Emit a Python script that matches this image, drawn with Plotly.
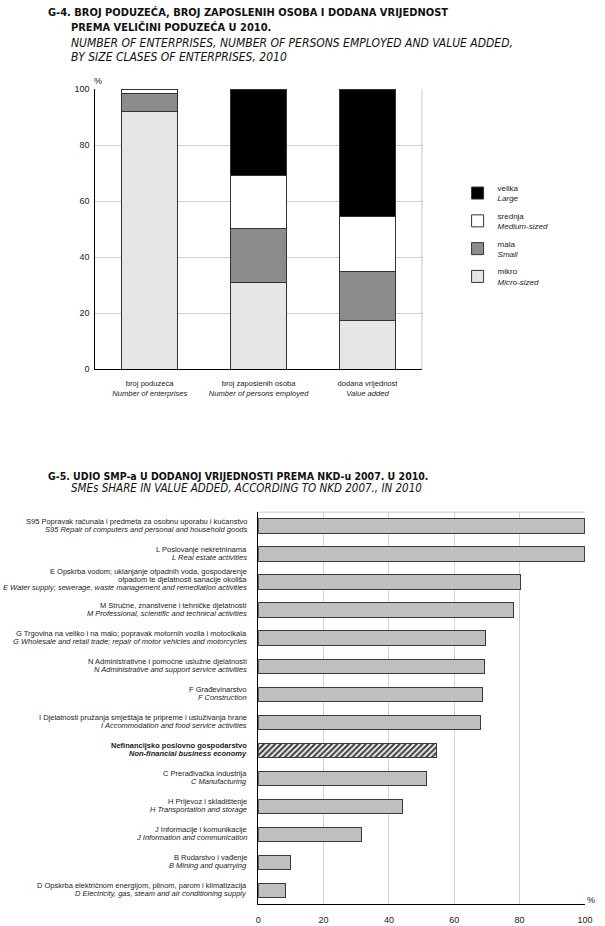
import plotly.graph_objects as go

# ---------------- DATA ----------------
# G-4 stacked bars
g4_cat_hr = ["broj poduzeća", "broj zaposlenih osoba", "dodana vrijednost"]
g4_cat_en = ["Number of enterprises", "Number of persons employed", "Value added"]
size_hr = ["mikro", "mala", "srednja", "velika"]
size_en = ["Micro-sized", "Small", "Medium-sized", "Large"]
micro = [92.0, 31.1, 17.3]
small = [6.6, 19.3, 17.6]
medium = [1.2, 18.7, 19.7]
large = [0.2, 30.9, 45.4]
size_colors = ["#e6e6e6", "#8c8c8c", "#ffffff", "#000000"]
legend_rank = [4, 3, 2, 1]

# G-5 horizontal bars (top to bottom)
g5_hr = [
    "S95 Popravak računala i predmeta za osobnu uporabu i kućanstvo",
    "L Poslovanje nekretninama",
    "E Opskrba vodom; uklanjanje otpadnih voda, gospodarenje<br>otpadom te djelatnosti sanacije okoliša",
    "M Stručne, znanstvene i tehničke djelatnosti",
    "G Trgovina na veliko i na malo; popravak motornih vozila i motocikala",
    "N Administrativne i pomoćne uslužne djelatnosti",
    "F Građevinarstvo",
    "I Djelatnosti pružanja smještaja te pripreme i usluživanja hrane",
    "Nefinancijsko poslovno gospodarstvo",
    "C Prerađivačka industrija",
    "H Prijevoz i skladištenje",
    "J Informacije i komunikacije",
    "B Rudarstvo i vađenje",
    "D Opskrba električnom energijom, plinom, parom i klimatizacija",
]
g5_en = [
    "S95 Repair of computers and personal and household goods",
    "L Real estate activities",
    "E Water supply; sewerage, waste management and remediation activities",
    "M Professional, scientific and technical activities",
    "G Wholesale and retail trade; repair of motor vehicles and motorcycles",
    "N Administrative and support service activities",
    "F Construction",
    "I Accommodation and food service activities",
    "Non-financial business economy",
    "C Manufacturing",
    "H Transportation and storage",
    "J Information and communication",
    "B Mining and quarrying",
    "D Electricity, gas, steam and air conditioning supply",
]
g5_values = [100.0, 100.0, 80.3, 78.1, 69.6, 69.3, 68.5, 68.1, 54.7, 51.4, 44.1, 31.7, 10.0, 8.2]
g5_total_label = "Nefinancijsko poslovno gospodarstvo"

# ---------------- LAYOUT HELPERS ----------------
W, H = 605, 926
def px(x):
    return x / W
def py(y):
    return 1 - y / H

BODY = "Liberation Sans, Arial, sans-serif"
TITLE = "Liberation Sans Narrow, Arial Narrow, DejaVu Sans Condensed, Liberation Sans, Arial, sans-serif"
TXT = "#222222"

fig = go.Figure()

# ---------------- G-4 ----------------
g4_x = g4_cat_hr
g4_tick = [f"{h}<br><i>{e}</i>" for h, e in zip(g4_cat_hr, g4_cat_en)]
for vals, hr, en, col, rk in zip([micro, small, medium, large], size_hr, size_en, size_colors, legend_rank):
    fig.add_trace(go.Bar(
        x=g4_x, y=vals, name=f"{hr}<br><i>{en}</i>",
        marker=dict(color=col, line=dict(color="#333333", width=1)),
        width=0.51, xaxis="x", yaxis="y", legendgroup=hr, legendrank=rk,
        hoverinfo="x+y",
    ))

# ---------------- G-5 ----------------
bar_cols = ["#ffffff" if c == g5_total_label else "#bfbfbf" for c in g5_hr]
pat = ["/" if c == g5_total_label else "" for c in g5_hr]
fig.add_trace(go.Bar(
    x=g5_values, y=g5_hr, orientation="h", width=0.52,
    marker=dict(color=bar_cols, line=dict(color="#3a3a3a", width=1),
                pattern=dict(shape=pat, fgcolor="#000000", bgcolor="#ffffff", fgopacity=1,
                             size=4, solidity=0.55)),
    xaxis="x2", yaxis="y2", showlegend=False,
))

annotations = []
# titles
def title_line(text, x, y, size, bold=False, italic=False):
    t = text
    if bold:
        t = f"<b>{t}</b>"
    if italic:
        t = f"<i>{t}</i>"
    annotations.append(dict(text=t, x=px(x), y=py(y), xref="paper", yref="paper",
                            xanchor="left", yanchor="middle", showarrow=False,
                            font=dict(family=TITLE, size=size, color="#111111")))

title_line("G-4. BROJ PODUZEĆA, BROJ ZAPOSLENIH OSOBA I DODANA VRIJEDNOST", 44, 8, 11, bold=True)
title_line("PREMA VELIČINI PODUZEĆA U 2010.", 67, 23, 11, bold=True)
title_line("NUMBER OF ENTERPRISES, NUMBER OF PERSONS EMPLOYED AND VALUE ADDED,", 67, 38, 12, italic=True)
title_line("BY SIZE CLASES OF ENTERPRISES, 2010", 67, 53, 12, italic=True)
title_line("G-5. UDIO SMP-a U DODANOJ VRIJEDNOSTI PREMA NKD-u 2007. U 2010.", 44, 476, 10.5, bold=True)
title_line("SMEs SHARE IN VALUE ADDED, ACCORDING TO NKD 2007., IN 2010", 67, 488, 11.5, italic=True)

# percent signs
annotations.append(dict(text="%", x=px(97), y=py(77), xref="paper", yref="paper", showarrow=False,
                        xanchor="center", yanchor="middle", font=dict(family=BODY, size=9, color=TXT)))
annotations.append(dict(text="%", x=px(599), y=py(905), xref="paper", yref="paper", showarrow=False,
                        xanchor="center", yanchor="middle", font=dict(family=BODY, size=9, color=TXT)))

# G-5 category labels (each line positioned separately)
LS = 7.9
for hr, en in zip(g5_hr, g5_en):
    lines_hr = hr.split("<br>")
    bold = hr == g5_total_label
    lines = [(l, False) for l in lines_hr] + [(en, True)]
    n = len(lines)
    for k, (l, it) in enumerate(lines):
        off = (k - (n - 1) / 2) * LS - 1.0 - (1.5 if n == 3 else 0)
        t = f"<i>{l}</i>" if it else l
        if bold:
            t = f"<b>{t}</b>"
        annotations.append(dict(text=t, x=px(251), y=hr, xref="paper", yref="y2",
                                yshift=-off, xanchor="right", yanchor="middle", showarrow=False,
                                font=dict(family=BODY, size=7.5, color=TXT)))

shapes = [
    # G-4 right border
    dict(type="line", xref="x domain", yref="y domain", x0=1, x1=1, y0=0, y1=1,
         line=dict(color="#c8c8c8", width=1)),
    # G-5 top border
    dict(type="line", xref="x2 domain", yref="y2 domain", x0=0, x1=1, y0=1, y1=1,
         line=dict(color="#c8c8c8", width=1)),
]

fig.update_layout(
    width=W, height=H, margin=dict(l=0, r=0, t=0, b=0),
    paper_bgcolor="white", plot_bgcolor="white",
    barmode="stack",
    font=dict(family=BODY, size=9, color=TXT),
    showlegend=True,
    legend=dict(x=px(463), y=py(173), xanchor="left", yanchor="top",
                font=dict(family=BODY, size=8, color=TXT), tracegroupgap=4,
                bgcolor="rgba(0,0,0,0)", traceorder="grouped"),
    xaxis=dict(domain=[px(94), px(426.7)], anchor="y", showline=True, linecolor="#000000", linewidth=1,
               tickmode="array", tickvals=g4_x, ticktext=g4_tick, ticks="", ticklabelstandoff=7,
               tickfont=dict(family=BODY, size=7.6, color=TXT), showgrid=False),
    yaxis=dict(domain=[py(368.3), py(85)], anchor="x", range=[0, 100], dtick=20, showline=True,
               linecolor="#000000", linewidth=1, gridcolor="#d0d0d0", gridwidth=1, ticks="",
               ticklabelstandoff=3,
               tickfont=dict(family=BODY, size=9, color=TXT), zeroline=False),
    xaxis2=dict(domain=[px(260), px(592.7)], anchor="y2", range=[0, 100], dtick=20, showline=True,
                linecolor="#000000", linewidth=1.3, gridcolor="#d0d0d0", gridwidth=1, ticks="",
                ticklabelstandoff=7,
                tickfont=dict(family=BODY, size=9, color=TXT), zeroline=False),
    yaxis2=dict(domain=[py(909.3), py(512.7)], anchor="x2", showline=True, linecolor="#000000", linewidth=1.3,
                autorange="reversed", showticklabels=False, ticks="", showgrid=False,
                categoryorder="array", categoryarray=g5_hr),
    annotations=annotations,
    shapes=shapes,
)

fig.write_html(
    "out.html",
    config={"displayModeBar": False},
    post_script=(
        "document.documentElement.style.margin='0';document.documentElement.style.overflow='hidden';"
        "document.body.style.margin='0';document.body.style.padding='0';document.body.style.overflow='hidden';"
        "var d=document.querySelector('.plotly-graph-div');"
        "if(d){d.style.position='fixed';d.style.left='0px';d.style.top='0px';}"
    ),
)
